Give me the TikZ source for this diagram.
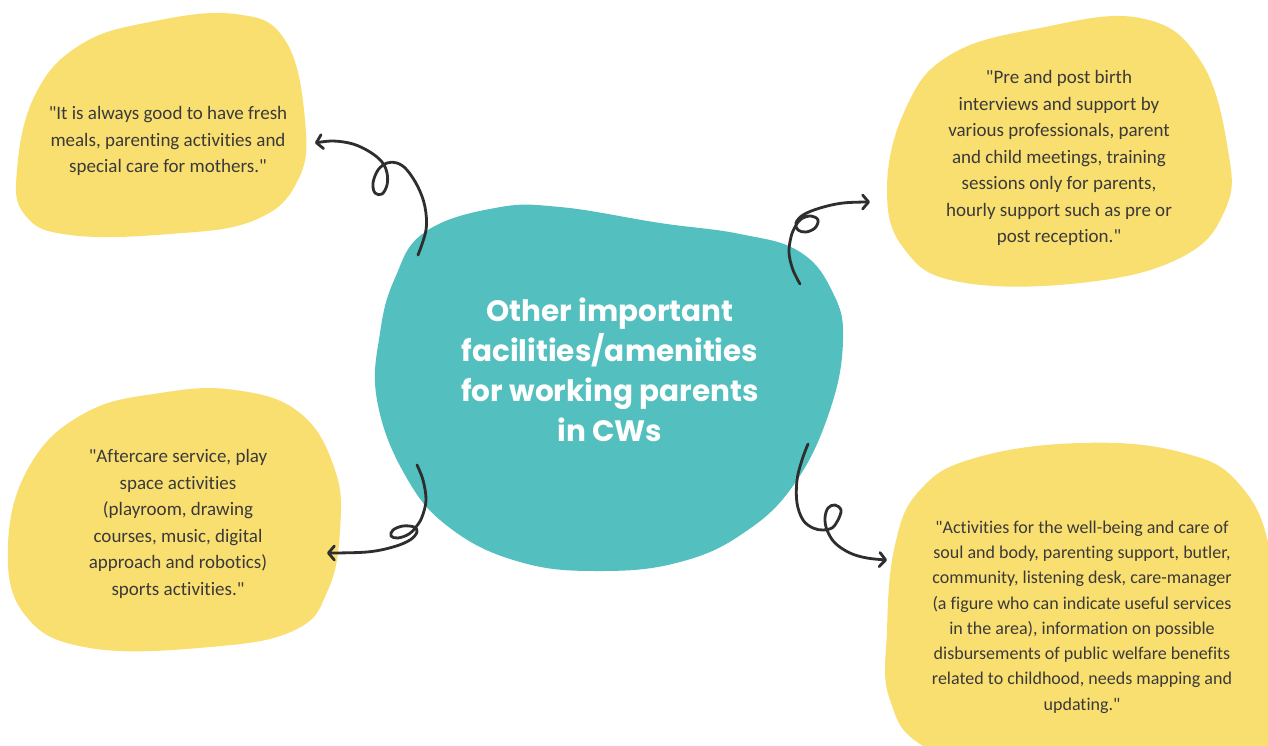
\documentclass[tikz,border=0pt]{standalone}
\usepackage{fontspec}
\setmainfont{Carlito}[Ligatures={TeXOff,NoCommon}]
\newfontfamily\titlefont{Poppins}
\usetikzlibrary{arrows.meta}

\definecolor{blobyellow}{HTML}{F9DF70}
\definecolor{blobteal}{HTML}{53BFBF}
\definecolor{quotegray}{HTML}{3A3A3A}
\definecolor{curlgray}{HTML}{2E2E2E}

\begin{document}
\begin{tikzpicture}[x=1pt,y=-1pt,
  yellowblob/.style={fill=blobyellow},
  quote/.style={font=\fontsize{19}{26.5}\selectfont,text=quotegray,align=center},
  curl/.style={curlgray,line width=2.8pt,line cap=round,line join=round,
    -{Straight Barb[length=6pt,width=14pt,round]}}]
\useasboundingbox (0,0) rectangle (1268,745);
\clip (0,0) rectangle (1268,745);
\fill[white] (0,0) rectangle (1268,745);

% Quote blobs
\fill[yellowblob] plot[smooth cycle,tension=0.7] coordinates
  {(17,170) (35,95) (80,45) (150,22) (235,14) (285,40) (305,120) (298,180) (255,220) (170,234) (70,235) (25,215)};
\fill[yellowblob] plot[smooth cycle,tension=0.7] coordinates
  {(887,190) (905,110) (950,55) (1040,28) (1140,18) (1200,60) (1228,150) (1225,210) (1180,258) (1080,283) (960,282) (905,250)};
\fill[yellowblob] plot[smooth cycle,tension=0.7] coordinates
  {(8,545) (30,465) (85,413) (160,393) (235,390) (300,413) (335,470) (340,530) (328,590) (295,630) (210,647) (90,648) (25,615)};
\fill[yellowblob] plot[smooth cycle,tension=0.7] coordinates
  {(887,630) (895,545) (920,490) (975,458) (1080,443) (1180,452) (1240,485) (1272,560) (1285,700) (1230,790) (1050,790) (930,750) (890,700)};

% Central blob
\fill[blobteal] plot[smooth cycle,tension=0.7] coordinates
  {(377,400) (380,333) (395,278) (425,232) (495,208) (560,207) (660,223) (740,234) (800,252) (833,293) (843,340) (830,410) (795,483) (745,532) (680,562) (600,571) (520,562) (450,528) (405,475)};

% Texts
\node[text=white,align=center,font=\titlefont\bfseries\fontsize{29.5}{40}\selectfont] (hub) at (610,370)
  {Other important\\facilities/amenities\\for working parents\\in CWs};
\node[quote] (meals) at (168,141)
  {"It is always good to have fresh\\meals, parenting activities and\\special care for mothers."};
\node[quote] (birth) at (1059,158)
  {"Pre and post birth\\interviews and support by\\various professionals, parent\\and child meetings, training\\sessions only for parents,\\hourly support such as pre or\\post reception."};
\node[quote] (aftercare) at (178,524)
  {"Aftercare service, play\\space activities\\(playroom, drawing\\courses, music, digital\\approach and robotics)\\sports activities."};
\node[quote,font=\fontsize{18}{25.3}\selectfont] (wellbeing) at (1082,617)
  {"Activities for the well-being and care of\\soul and body, parenting support, butler,\\community, listening desk, care-manager\\(a figure who can indicate useful services\\in the area), information on possible\\disbursements of public welfare benefits\\related to childhood, needs mapping and\\updating."};

% Curly arrows
\coordinate (hub-nw) at (418,255);
\coordinate (hub-ne) at (800,284);
\coordinate (hub-sw) at (417,465);
\coordinate (hub-se) at (808,444);
\coordinate (meals-in) at (315,143);
\coordinate (birth-in) at (870,202);
\coordinate (aftercare-in) at (327,553);
\coordinate (wellbeing-in) at (887,560);

\draw[curl] plot[smooth,tension=0.6] coordinates
  {(hub-nw) (426,230) (425,207) (418,187) (407,170) (397,163) (387,163) (378,170) (373,183) (375,193) (382,194) (387,185) (387,173) (382,162) (370,152) (353,144) (333,141) (meals-in)};
\draw[curl] plot[smooth,tension=0.6] coordinates
  {(hub-ne) (793,270) (789,253) (791,237) (795,227) (801,219) (811,216) (818,220) (815,228) (806,232) (798,230) (796,223) (803,215) (820,208) (843,203) (birth-in)};
\draw[curl] plot[smooth,tension=0.6] coordinates
  {(hub-sw) (423,480) (426,500) (422,517) (416,527) (409,534) (398,538) (391,536) (393,530) (403,526) (414,527) (417,532) (410,540) (393,547) (367,552) (aftercare-in)};
\draw[curl] plot[smooth,tension=0.6] coordinates
  {(hub-se) (802,460) (797,480) (797,503) (803,520) (813,528) (823,530) (832,528) (838,520) (841,510) (835,505) (828,508) (825,518) (827,530) (835,543) (850,553) (867,558) (wellbeing-in)};
\end{tikzpicture}
\end{document}
